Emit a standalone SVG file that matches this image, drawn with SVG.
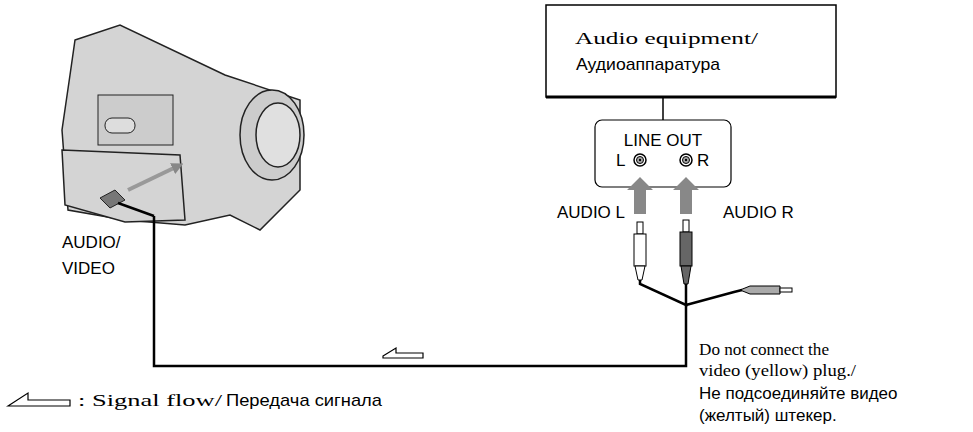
<svg xmlns="http://www.w3.org/2000/svg" width="973" height="432" viewBox="0 0 973 432">
<style>
.s{font-family:"Liberation Sans",Arial,sans-serif;font-size:17px;fill:#000}
.t{font-family:"Liberation Serif","Times New Roman",serif;font-size:17px;fill:#000}
.r{font-family:"Liberation Sans",Arial,sans-serif;font-size:17px;fill:#000}
.ln{fill:none;stroke:#000;stroke-width:2.5}
.cam{fill:#d4d4d4;stroke:#222;stroke-width:1.5}
.ga{fill:#888}
</style>
<defs>
<marker id="ga" markerWidth="3" markerHeight="3" refX="1.5" refY="1.5" orient="auto"><path d="M0,0 L3,1.5 L0,3z" fill="#888"/></marker>
</defs>
<rect width="973" height="432" fill="#fff"/>
<g id="camcorder">
<path class="cam" d="M75,40 L120,25 L225,75 L300,100 L300,190 L260,230 L230,215 L185,225 L125,220 L68,210 L62,130 L70,75z"/>
<path class="cam" d="M62,150 L180,155 L185,220 L125,222 L65,205z" fill="#c8c8c8"/>
<ellipse cx="272" cy="135" rx="32" ry="45" fill="#ccc" stroke="#222" stroke-width="1.5"/>
<ellipse cx="278" cy="135" rx="22" ry="32" fill="#e0e0e0" stroke="#222" stroke-width="1.5"/>
<rect x="98" y="95" width="75" height="50" fill="#ccc" stroke="#222"/>
<rect x="105" y="118" width="30" height="15" rx="7" fill="#ddd" stroke="#222"/>
<line x1="128" y1="190" x2="178" y2="166" stroke="#999" stroke-width="4" marker-end="url(#ga)"/>
<path d="M100,198 L115,190 L125,200 L110,208z" fill="#777" stroke="#222"/>
<line x1="118" y1="203" x2="154" y2="216" stroke="#000" stroke-width="2.5"/>
</g>
<g id="audio-equipment">
<rect x="546" y="5" width="290" height="92" fill="#fff" stroke="#000" stroke-width="1.5"/>
<line x1="546" y1="97" x2="836" y2="97" stroke="#000" stroke-width="3"/>
<text class="t" x="575" y="44" font-size="20" textLength="183" lengthAdjust="spacingAndGlyphs">Audio equipment/</text>
<text class="r" x="576" y="70" textLength="144" lengthAdjust="spacingAndGlyphs">Аудиоаппаратура</text>
</g>
<g id="line-out">
<rect x="595" y="120" width="136" height="67" rx="7" fill="#fff" stroke="#000" stroke-width="1.2"/>
<text class="s" x="663" y="146" text-anchor="middle">LINE OUT</text>
<text class="s" x="616" y="166">L</text>
<text class="s" x="697" y="166">R</text>
<circle cx="640" cy="160" r="6" fill="#fff" stroke="#000" stroke-width="1.5"/><circle cx="640" cy="160" r="3.5" fill="#aaa" stroke="#000"/><circle cx="640" cy="160" r="1.2"/>
<circle cx="686" cy="160" r="6" fill="#fff" stroke="#000" stroke-width="1.5"/><circle cx="686" cy="160" r="3.5" fill="#aaa" stroke="#000"/><circle cx="686" cy="160" r="1.2"/>
</g>
<g id="plugs">
<path class="ga" d="M634,214 L646,214 L646,190 L653,190 L640,177 L627,190 L634,190z"/>
<path class="ga" d="M680,214 L692,214 L692,190 L699,190 L686,177 L673,190 L680,190z"/>
<rect x="637" y="222" width="6" height="12" fill="#fff" stroke="#000"/>
<rect x="634" y="234" width="12" height="32" fill="#fff" stroke="#000"/>
<path d="M635,266 L645,266 L642,280 L638,280z" fill="#fff" stroke="#000"/>
<rect x="683" y="220" width="6" height="12" fill="#fff" stroke="#000"/>
<rect x="680" y="232" width="12" height="34" fill="#666" stroke="#000"/>
<path d="M681,266 L691,266 L688,284 L684,284z" fill="#666" stroke="#000"/>
<path d="M740,290 L750,286 L780,286 L780,294 L750,294z" fill="#aaa" stroke="#000"/>
<rect x="780" y="288" width="12" height="4" fill="#fff" stroke="#000"/>
</g>
<g id="connectors">
<path class="ln" d="M154,216 L154,366 L686,366 L686,305"/>
<path class="ln" d="M640,280 L640,284 L686,305 L686,284 M686,305 L734,292 L742,290" stroke-width="2"/>
<line x1="663" y1="97" x2="663" y2="120" stroke="#000" stroke-width="1.5"/>
<path d="M383,356 L396,348 L396,353 L423,353 L423,358 L383,358z" fill="#fff" stroke="#000" stroke-width="1.2"/>
</g>
<g id="labels">
<text class="s" x="557" y="218">AUDIO L</text>
<text class="s" x="723" y="218">AUDIO R</text>
<text class="s" x="62" y="248">AUDIO/</text>
<text class="s" x="62" y="274">VIDEO</text>
<text class="t" x="699" y="355" font-size="15" textLength="130" lengthAdjust="spacingAndGlyphs">Do not connect the</text>
<text class="t" x="699" y="376" font-size="15" textLength="157" lengthAdjust="spacingAndGlyphs">video (yellow) plug./</text>
<text class="r" x="699" y="399">Не подсоединяйте видео</text>
<text class="r" x="699" y="421">(желтый) штекер.</text>
<path d="M8,406 L28,393 L28,400 L70,400 L70,406z" fill="#fff" stroke="#000" stroke-width="1.2"/>
<text class="t" x="78" y="406" textLength="144" lengthAdjust="spacingAndGlyphs">: Signal flow/</text>
<text class="r" x="226" y="406" textLength="156" lengthAdjust="spacingAndGlyphs">Передача сигнала</text>
</g>
</svg>
